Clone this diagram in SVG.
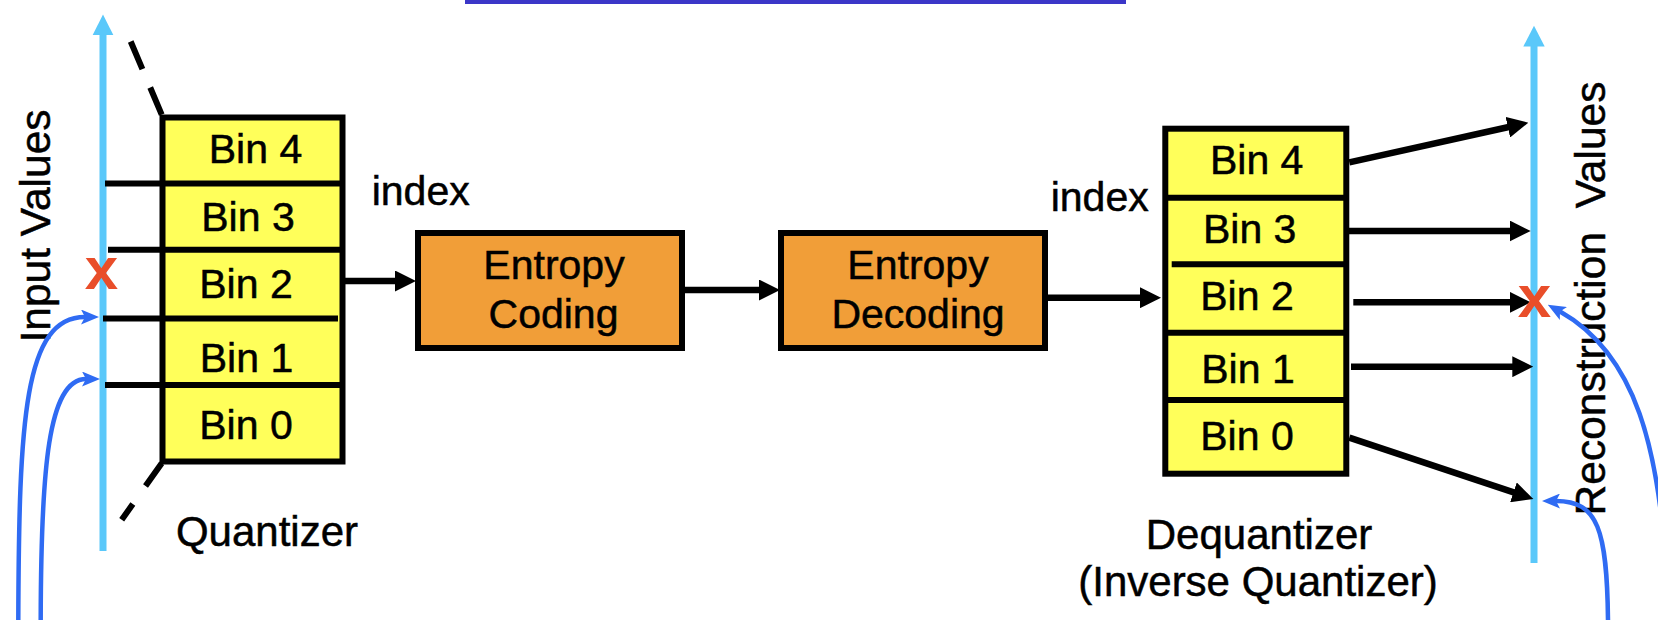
<svg xmlns="http://www.w3.org/2000/svg" width="1658" height="620" viewBox="0 0 1658 620">
<style>
text{font-family:"Liberation Sans",Arial,Helvetica,sans-serif;fill:#000;stroke:#000;stroke-width:0.5}
.lbl{font-size:41px}
.big{font-size:42px}
.rot{font-size:42.5px}
.bin{fill:#FFFF5A;stroke:#000;stroke-width:6}
.ent{fill:#F19E38;stroke:#000;stroke-width:6}
.div{stroke:#000;stroke-width:6;fill:none}
.axis{stroke:#5AC8FA;stroke-width:7;fill:none}
.axh{fill:#5AC8FA}
.blk{stroke:#000;stroke-width:6.5;fill:none;marker-end:url(#ah)}
.blu{stroke:#2F6BF3;stroke-width:4.5;fill:none;marker-end:url(#bh)}
.dash{stroke:#000;stroke-width:6;fill:none}
.xm{font-size:60px;font-weight:bold;fill:#E94E2A;stroke:none;text-anchor:middle}
</style>
<defs>
<marker id="ah" markerUnits="userSpaceOnUse" viewBox="0 0 21 21" markerWidth="21" markerHeight="21" refX="1" refY="10.5" orient="auto">
<path d="M0,0 L21,10.5 L0,21 Z" fill="#000"/>
</marker>
<marker id="bh" markerUnits="userSpaceOnUse" viewBox="0 0 18 15" markerWidth="18" markerHeight="15" refX="4" refY="7.5" orient="auto">
<path d="M0,0 L18,7.5 L0,15 L4,7.5 Z" fill="#2F6BF3"/>
</marker>
</defs>

<rect id="topbar" x="465" y="0" width="661" height="4" fill="#3B36C8"/>

<g id="input-axis">
<line class="axis" x1="103" y1="551" x2="103" y2="33"/>
<polygon class="axh" points="103,14.6 92.7,35 113.3,35"/>
<text class="rot" transform="rotate(-90 50 226)" x="50" y="226" text-anchor="middle">Input Values</text>
</g>

<g id="quantizer">
<path class="dash" d="M130.7,41.5 L161.7,114.6" stroke-dasharray="30 20"/>
<path class="dash" d="M161.7,463.2 L121.7,519.8" stroke-dasharray="28 22"/>
<rect class="bin" x="162.5" y="117.5" width="180" height="344"/>
<line class="div" x1="105" y1="183.4" x2="340" y2="183.4"/>
<line class="div" x1="108" y1="249.8" x2="340" y2="249.8"/>
<line class="div" x1="103" y1="318.6" x2="338" y2="318.6"/>
<line class="div" x1="105" y1="385" x2="340" y2="385"/>
<text class="lbl" x="255.5" y="163" text-anchor="middle">Bin 4</text>
<text class="lbl" x="248" y="230.5" text-anchor="middle">Bin 3</text>
<text class="lbl" x="246" y="297.5" text-anchor="middle">Bin 2</text>
<text class="lbl" x="246.5" y="371.5" text-anchor="middle">Bin 1</text>
<text class="lbl" x="246" y="438.5" text-anchor="middle">Bin 0</text>
<text class="big" x="267" y="545.5" text-anchor="middle">Quantizer</text>
</g>

<g id="entropy-coding">
<rect class="ent" x="418" y="233" width="264" height="115"/>
<text class="lbl" x="554" y="279.3" text-anchor="middle">Entropy</text>
<text class="lbl" x="553.5" y="328.3" text-anchor="middle">Coding</text>
</g>

<g id="entropy-decoding">
<rect class="ent" x="781" y="233" width="264" height="115"/>
<text class="lbl" x="918" y="279.3" text-anchor="middle">Entropy</text>
<text class="lbl" x="918" y="328.3" text-anchor="middle">Decoding</text>
</g>

<text id="index-left" class="lbl" x="371.7" y="205">index</text>
<text id="index-right" class="lbl" x="1050.7" y="211">index</text>

<g id="dequantizer">
<rect class="bin" x="1165.3" y="128.7" width="181" height="345"/>
<line class="div" x1="1168" y1="197.7" x2="1344" y2="197.7"/>
<line class="div" x1="1171.7" y1="264.3" x2="1344" y2="264.3"/>
<line class="div" x1="1168" y1="332.7" x2="1344" y2="332.7"/>
<line class="div" x1="1168" y1="400" x2="1344" y2="400"/>
<text class="lbl" x="1256.7" y="174" text-anchor="middle">Bin 4</text>
<text class="lbl" x="1249.7" y="243.3" text-anchor="middle">Bin 3</text>
<text class="lbl" x="1247" y="310" text-anchor="middle">Bin 2</text>
<text class="lbl" x="1248" y="383.3" text-anchor="middle">Bin 1</text>
<text class="lbl" x="1247" y="450" text-anchor="middle">Bin 0</text>
<text class="big" x="1259" y="549" text-anchor="middle">Dequantizer</text>
<text class="big" x="1258" y="596" text-anchor="middle">(Inverse Quantizer)</text>
</g>

<g id="reconstruction-axis">
<line class="axis" x1="1534" y1="563" x2="1534" y2="45"/>
<polygon class="axh" points="1534,25.7 1523.3,46.6 1544.7,46.6"/>
<text class="rot" transform="rotate(-90 1605 298.5)" x="1605" y="298.5" text-anchor="middle" xml:space="preserve">Reconstruction  Values</text>
</g>

<g id="connectors">
<line class="blk" x1="345" y1="281" x2="396" y2="281"/>
<line class="blk" x1="685" y1="290" x2="760" y2="290"/>
<line class="blk" x1="1048" y1="297.7" x2="1141" y2="297.7"/>
<line class="blk" x1="1349.3" y1="162.3" x2="1508.8" y2="127"/>
<line class="blk" x1="1349" y1="231" x2="1510.7" y2="231"/>
<line class="blk" x1="1353.3" y1="302.3" x2="1510.7" y2="302.3"/>
<line class="blk" x1="1351" y1="366.7" x2="1513.3" y2="366.7"/>
<line class="blk" x1="1349.3" y1="437.7" x2="1514.4" y2="492.7"/>
<path class="blu" d="M18.3,620 C19,420 24,317 85,317"/>
<path class="blu" d="M40.7,620 C41,470 48,379 86,379"/>
<path class="blu" d="M1668,620 C1664,440 1632,352 1560,311.5"/>
<path class="blu" d="M1608,620 C1607,530 1598,501 1556,501"/>
</g>

<g id="marks">
<text class="xm" x="101.5" y="289">x</text>
<text class="xm" x="1534.5" y="317">x</text>
</g>
</svg>
